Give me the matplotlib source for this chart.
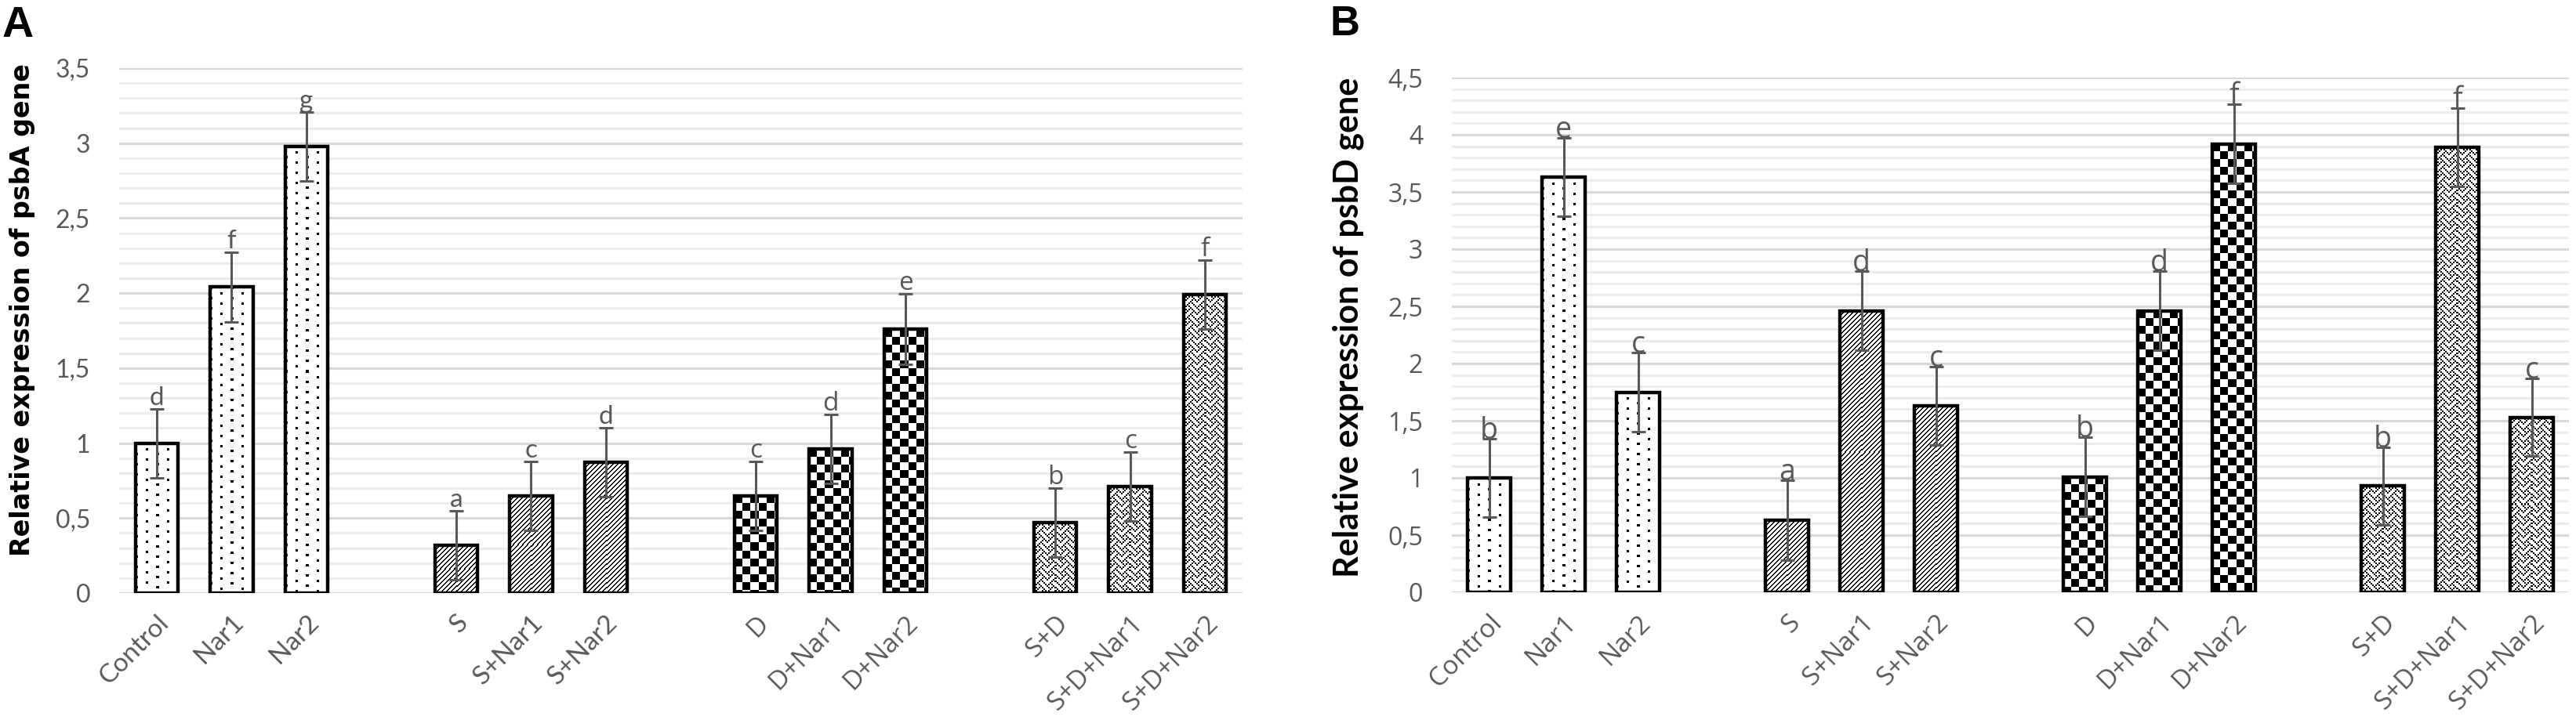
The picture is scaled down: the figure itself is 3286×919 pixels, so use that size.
import numpy as np
import matplotlib
matplotlib.use('Agg')
import matplotlib.pyplot as plt
from matplotlib.ticker import MultipleLocator, FuncFormatter
from matplotlib.transforms import ScaledTranslation

# ============================================================
# DADOS
# ============================================================
tratamentos = ['Control', 'Nar1', 'Nar2',
               'S', 'S+Nar1', 'S+Nar2',
               'D', 'D+Nar1', 'D+Nar2',
               'S+D', 'S+D+Nar1', 'S+D+Nar2']
grupo = [0, 0, 0, 1, 1, 1, 2, 2, 2, 3, 3, 3]

psbA_media = [1.00, 2.04, 2.98, 0.32, 0.65, 0.87, 0.65, 0.96, 1.76, 0.47, 0.71, 1.99]
psbA_erro = [0.23, 0.23, 0.23, 0.23, 0.23, 0.23, 0.23, 0.23, 0.235, 0.23, 0.23, 0.23]
psbA_letras = ['d', 'f', 'g', 'a', 'c', 'd', 'c', 'd', 'e', 'b', 'c', 'f']

psbD_media = [1.00, 3.63, 1.75, 0.63, 2.46, 1.63, 1.01, 2.46, 3.92, 0.93, 3.89, 1.53]
psbD_erro = [0.345, 0.34, 0.345, 0.35, 0.345, 0.345, 0.345, 0.345, 0.345, 0.34, 0.345, 0.34]
psbD_letras = ['b', 'e', 'c', 'a', 'd', 'c', 'b', 'd', 'f', 'b', 'f', 'c']

# ============================================================
# ESTILO
# ============================================================
W, H = 3286, 919
DPI = 100
CINZA = '#595959'
padroes = ['pontos', 'diagonal', 'xadrez', 'trama']


def padrao(tipo, w, h):
    """Gera o preenchimento (1 = preto) em pixels."""
    yy, xx = np.mgrid[0:h, 0:w]
    if tipo == 'pontos':
        a = ((xx % 26) < 3) & ((yy % 13) < 3)
        b = (((xx + 13) % 26) < 3) & (((yy + 6) % 13) < 3)
        m = a | b
    elif tipo == 'diagonal':
        m = ((xx + yy) % 6) < 2
    elif tipo == 'xadrez':
        m = ((xx // 10 + yy // 10) % 2) == 0
    else:
        bits = [0x88, 0x54, 0x22, 0x45, 0x88, 0x14, 0x22, 0x51]
        tile = np.array([[(v >> (7 - k)) & 1 for k in range(8)] for v in bits], dtype=bool)
        tile = np.kron(tile, np.ones((2, 2), dtype=bool))
        m = tile[yy % 16, xx % 16]
    return m.astype(float)


def caixa(esq, dir, topo, base):
    return [esq / W, 1 - base / H, (dir - esq) / W, (base - topo) / H]


def painel(ax, medias, erros, letras, ymax, fontes, fonte_tick, tam_letra, desloc_letra):
    pos = [i + g for i, g in enumerate(grupo)]
    largura = 0.57
    xlim = (-0.5, 14.5)
    ax.set_xlim(*xlim)
    ax.set_ylim(0, ymax)

    # grade
    ax.yaxis.set_major_locator(MultipleLocator(0.5))
    ax.yaxis.set_minor_locator(MultipleLocator(0.1))
    ax.grid(which='minor', axis='y', color='#EDEDED', linewidth=2.2, zorder=0)
    ax.grid(which='major', axis='y', color='#D9D9D9', linewidth=2.3, zorder=0)
    ax.grid(False, axis='x')
    ax.set_axisbelow(True)
    for s in ax.spines.values():
        s.set_visible(False)

    # preenchimento das barras
    for x, m, g in zip(pos, medias, grupo):
        p0 = ax.transData.transform((x - largura / 2, 0))
        p1 = ax.transData.transform((x + largura / 2, m))
        pw = max(int(round(p1[0] - p0[0])), 1)
        ph = max(int(round(p1[1] - p0[1])), 1)
        img = padrao(padroes[g], pw, ph)
        ax.imshow(img, cmap='gray_r', vmin=0, vmax=1,
                  extent=(x - largura / 2, x + largura / 2, 0, m),
                  aspect='auto', interpolation='nearest', zorder=2)
    ax.set_aspect('auto')
    ax.set_xlim(*xlim)
    ax.set_ylim(0, ymax)

    ax.bar(pos, medias, width=largura, fill=False, edgecolor='black',
           linewidth=3.2, zorder=3)
    ax.errorbar(pos, medias, yerr=erros, fmt='none', ecolor=CINZA,
                elinewidth=2.2, capsize=6.5, capthick=2.2, zorder=4)

    for x, m, e, l, f in zip(pos, medias, erros, letras, fontes):
        ax.annotate(l, (x, m + e), xytext=(0, desloc_letra), textcoords='offset points',
                    ha='center', va='baseline', color=CINZA, fontsize=tam_letra,
                    family=f, zorder=5)

    # eixos
    ax.set_xticks(pos)
    ax.set_xticklabels(tratamentos, rotation=45, ha='right', va='top',
                       rotation_mode='anchor', color=CINZA, fontsize=24)
    desloc = ScaledTranslation(8 / DPI, 0, ax.figure.dpi_scale_trans)
    for lab, f in zip(ax.get_xticklabels(), fontes):
        lab.set_family(f)
        lab.set_transform(lab.get_transform() + desloc)
    ax.yaxis.set_major_formatter(FuncFormatter(lambda v, p: f'{v:g}'.replace('.', ',')))
    for lab in ax.get_yticklabels():
        lab.set_family(fonte_tick)
    ax.tick_params(axis='y', which='both', length=0, labelsize=23, labelcolor=CINZA, pad=26.5)
    ax.tick_params(axis='x', which='both', length=0, pad=16)


fig = plt.figure(figsize=(W / DPI, H / DPI), dpi=DPI)

axA = fig.add_axes(caixa(152, 1585, 87, 757))
fontesA = ['Lato'] * 6 + ['Open Sans'] * 6
painel(axA, psbA_media, psbA_erro, psbA_letras, 3.5, fontesA, 'Lato', 24, 3.6)

axB = fig.add_axes(caixa(1852, 3277, 99, 756))
fontesB = ['Open Sans'] * 12
painel(axB, psbD_media, psbD_erro, psbD_letras, 4.5, fontesB, 'Open Sans', 27, 0)
for lab in axB.get_yticklabels():
    lab.set_family('Open Sans')

# rótulos dos eixos y e letras dos painéis
fig.text(29 / W, 1 - 396 / H, 'Relative expression of psbA gene', rotation=90,
         ha='center', va='center', fontsize=24, fontweight='bold', family='DejaVu Sans')
fig.text(1720 / W, 1 - 418 / H, 'Relative expression of psbD gene', rotation=90,
         ha='center', va='center', fontsize=31, fontweight='bold', family='Lato')
fig.text(3 / W, 1 - 47 / H, 'A', ha='left', va='baseline', fontsize=40,
         fontweight='bold', family='Liberation Sans')
fig.text(1696 / W, 1 - 45 / H, 'B', ha='left', va='baseline', fontsize=38,
         fontweight='bold', family='Liberation Sans')

fig.savefig('out.png', dpi=DPI, facecolor='white')
